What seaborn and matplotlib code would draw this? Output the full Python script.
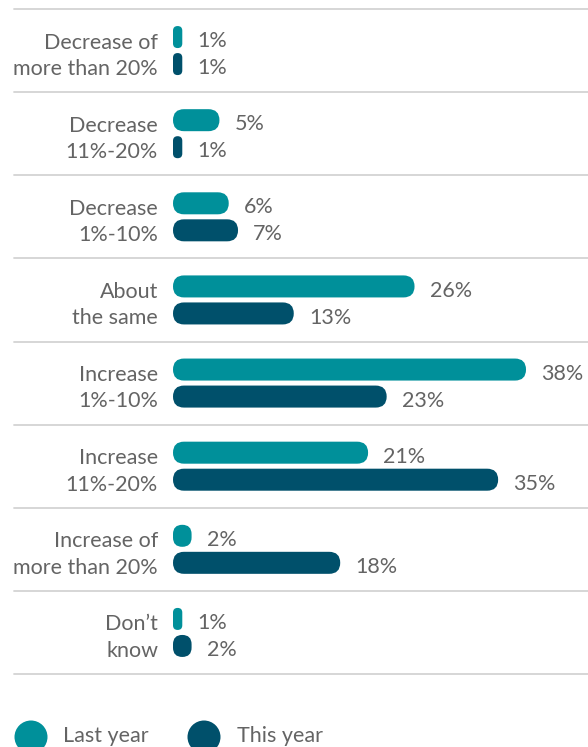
import matplotlib
matplotlib.use("Agg")
import matplotlib.pyplot as plt
import seaborn as sns
import pandas as pd
from matplotlib.patches import FancyBboxPatch, Ellipse

categories = ["Decrease of\nmore than 20%", "Decrease\n11%-20%", "Decrease\n1%-10%",
              "About\nthe same", "Increase\n1%-10%", "Increase\n11%-20%",
              "Increase of\nmore than 20%", "Don\u2019t\nknow"]
last_year = [1, 5, 6, 26, 38, 21, 2, 1]
this_year = [1, 1, 7, 13, 23, 35, 18, 2]
series = ["Last year", "This year"]
colors = ["#00909A", "#00506B"]
text_col = "#646464"

sns.set_style("white")
plt.rcParams['font.family'] = ['Lato', 'DejaVu Sans']
FS = 15.5
FW = "normal"

W, H = 588, 747
fig = plt.figure(figsize=(W / 100, H / 100), dpi=100)

x0 = 173
top, bottom = 9, 674
px_per = 9.29
py_per = (bottom - top) / len(categories)
ax = fig.add_axes([x0 / W, 1 - bottom / H, (W - x0) / W, (bottom - top) / H])

df = pd.DataFrame({
    "category": categories * 2,
    "value": last_year + this_year,
    "series": [series[0]] * len(categories) + [series[1]] * len(categories),
})

sns.barplot(data=df, x="value", y="category", hue="series", order=categories,
            hue_order=series, palette=colors, orient="h", width=0.65, gap=0.185,
            ax=ax, legend=False, saturation=1)

ax.set_xlim(0, (W - x0) / px_per)
ax.set_ylim(len(categories) - 0.5, -0.5)

# value labels
for cont, vals in zip(ax.containers, [last_year, this_year]):
    anns = ax.bar_label(cont, labels=[f"{v}%" for v in vals], padding=11,
                        fontsize=FS, color=text_col, fontweight=FW)
    for a in anns:
        a.xyann = (11, -3)

# rounded bars
aspect = px_per / py_per
for cont, col in zip(ax.containers, colors):
    for r in cont:
        x, y, w, h = r.get_x(), r.get_y(), r.get_width(), r.get_height()
        rad_px = min(w * px_per, h * py_per) / 2
        rad = rad_px / px_per
        p = FancyBboxPatch((x, y), w, h, boxstyle=f"round,pad=0,rounding_size={rad}",
                           mutation_aspect=aspect, facecolor=col, edgecolor="none")
        ax.add_patch(p)
        r.set_visible(False)

# separators
for k in range(len(categories) + 1):
    ax.axhline(k - 0.5, xmin=(14 - x0) / (W - x0), xmax=1, color="#d3d3d3",
               lw=1.3, clip_on=False, zorder=0)

ax.set_xlabel("")
ax.set_ylabel("")
ax.set_xticks([])
ax.tick_params(axis="y", length=0, pad=10.8, labelsize=FS, labelcolor=text_col)
for t in ax.get_yticklabels():
    t.set_multialignment("right")
    t.set_linespacing(1.4)
    t.set_fontweight(FW)
for s in ax.spines.values():
    s.set_visible(False)

# legend
leg_y = 737
for cx, tx, col, lab in [(31, 63, colors[0], series[0]), (204, 237, colors[1], series[1])]:
    fig.add_artist(Ellipse((cx / W, 1 - leg_y / H), 33 / W, 33 / H,
                           transform=fig.transFigure, facecolor=col, edgecolor="none"))
    fig.text(tx / W, 1 - 736 / H, lab, fontsize=FS, color=text_col,
             ha="left", va="center", fontweight=FW)

fig.savefig("out.png", dpi=100)
